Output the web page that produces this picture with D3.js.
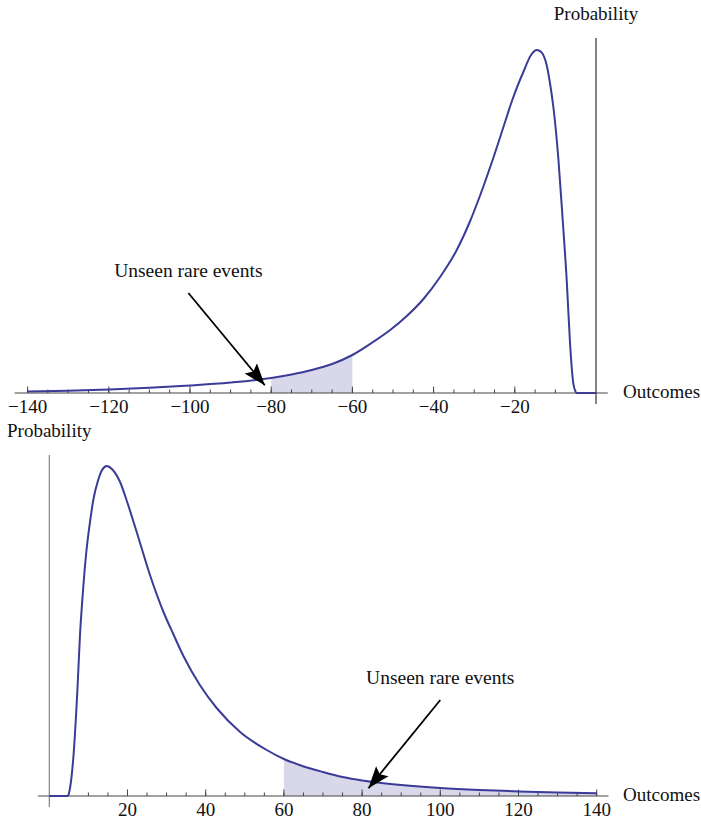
<!DOCTYPE html>
<html>
<head>
<meta charset="utf-8">
<script src="https://cdn.jsdelivr.net/npm/d3@7"></script>
<style>
  body { margin: 0; background: #fff; }
  svg text { font-family: "Liberation Serif", "Times New Roman", serif; font-size: 19px; fill: #111; }
</style>
</head>
<body>
<svg id="chart" width="701" height="822"></svg>
<script>
// top plot: losses, long tail to the left
const topOutcomes = [-140, -130, -120, -110, -100, -90, -80, -75, -70, -65, -60, -54.9, -50.7, -46.6, -42.5,
    -38.4, -34.3, -31, -28.6, -25.3, -22.8, -20.4, -17.9, -16, -14.6, -13.5, -12.1, -11.3, -10.5, -9.3, -8.2,
    -7.2, -6.4, -5.6, -4.75, -2, 0];
const topProbability = [0.00015, 0.00023, 0.00035, 0.00052, 0.00075, 0.00105, 0.0015, 0.00185, 0.0023, 0.0029,
    0.0038, 0.0051, 0.0063, 0.0077, 0.0094, 0.0116, 0.0143, 0.0172, 0.0197, 0.0235, 0.0266, 0.02955, 0.0321,
    0.0338, 0.0343, 0.0341, 0.0327, 0.0309, 0.0286, 0.0236, 0.0173, 0.0112, 0.0050, 0.0010, 0, 0, 0];

// bottom plot: gains, long tail to the right
const bottomOutcomes = [0, 2, 4.6, 5.3, 6.14, 7.16, 7.85, 8.54, 9.39, 10.41, 11.25, 12.5, 13.5, 14.7, 16, 18.1, 20,
    22.35, 25.75, 29.2, 31.7, 34.3, 38.5, 42.8, 48.8, 55.6, 60, 64, 70, 75, 80, 85, 90, 100, 110, 120, 130, 140];
const bottomProbability = [0, 0, 0, 0.0008, 0.0038, 0.0104, 0.0161, 0.0201, 0.0241, 0.0274, 0.0296, 0.0316, 0.0326,
    0.0330, 0.0327, 0.0314, 0.0293, 0.0264, 0.0221, 0.0184, 0.0162, 0.0140, 0.0111, 0.0088, 0.0064, 0.0046,
    0.0037, 0.0031, 0.0024, 0.0019, 0.00155, 0.0013, 0.0011, 0.0008, 0.0006, 0.00046, 0.00035, 0.00027];

const topTicks = [-140, -120, -100, -80, -60, -40, -20];
const bottomTicks = [20, 40, 60, 80, 100, 120, 140];
const topShade = [-80, -60];
const bottomShade = [60, 140];
const annotation = "Unseen rare events";
const topArrow = [[-100.4, 0.0100], [-80, 0]];
const bottomArrow = [[100, 0.0096], [80, 0]];

const curveColor = "#3b3b98";
const shadeColor = "#d8d8ea";

const svg = d3.select("#chart");

// arrow head used by both annotations
svg.append("defs").append("marker")
    .attr("id", "arrowhead")
    .attr("markerUnits", "userSpaceOnUse")
    .attr("markerWidth", 24).attr("markerHeight", 18)
    .attr("refX", 22).attr("refY", 9)
    .attr("orient", "auto")
  .append("path")
    .attr("d", "M0,1 L22,9 L0,17 L4,9 Z")
    .attr("fill", "#000");

/**
 * Draws one density plot with Mathematica-like axes crossing at the origin.
 */
function drawPanel(p) {
    let g = svg.append("g");
    let x = d3.scaleLinear().domain(p.xDomain).range(p.xRange);
    let y = d3.scaleLinear().domain([0, p.yMax]).range([p.baseline, p.peakPx]);
    let data = p.outcomes.map((d, i) => [d, p.probability[i]]);

    // shaded tail region, clipped from the full area so it follows the curve
    let clipId = "clip-" + p.name;
    g.append("clipPath").attr("id", clipId)
      .append("rect")
        .attr("x", x(p.shade[0])).attr("y", 0)
        .attr("width", x(p.shade[1]) - x(p.shade[0]))
        .attr("height", p.baseline);
    g.append("path")
        .datum(data)
        .attr("clip-path", "url(#" + clipId + ")")
        .attr("fill", shadeColor)
        .attr("d", d3.area().curve(d3.curveMonotoneX)
            .x(d => x(d[0])).y0(y(0)).y1(d => y(d[1])));

    // x axis
    g.append("line")
        .attr("x1", x(p.axisExtent[0])).attr("x2", x(p.axisExtent[1]))
        .attr("y1", p.baseline).attr("y2", p.baseline)
        .attr("stroke", "#444").attr("stroke-width", 1.1);

    g.selectAll(".minor").data(p.minorTicks).join("line")
        .attr("x1", d => x(d)).attr("x2", d => x(d))
        .attr("y1", p.baseline).attr("y2", p.baseline - 3.5)
        .attr("stroke", "#444");
    g.selectAll(".major").data(p.ticks).join("line")
        .attr("x1", d => x(d)).attr("x2", d => x(d))
        .attr("y1", p.baseline).attr("y2", p.baseline - 6.5)
        .attr("stroke", "#444");
    g.selectAll(".tick-label").data(p.ticks).join("text")
        .attr("x", d => x(d)).attr("y", p.baseline + 20)
        .attr("text-anchor", "middle")
        .text(d3.format("d"));

    // y axis
    g.append("line")
        .attr("x1", x(0)).attr("x2", x(0))
        .attr("y1", p.yAxisTop).attr("y2", p.baseline + 11)
        .attr("stroke", p.yAxisColor).attr("stroke-width", 1.1);

    // the density curve
    g.append("path")
        .datum(data)
        .attr("fill", "none")
        .attr("stroke", curveColor)
        .attr("stroke-width", 2)
        .attr("d", d3.line().curve(d3.curveMonotoneX).x(d => x(d[0])).y(d => y(d[1])));

    // annotation arrow: shorten the shaft so it ends inside the head
    let a = p.arrow.map(d => [x(d[0]), y(d[1])]);
    let dx = a[1][0] - a[0][0], dy = a[1][1] - a[0][1];
    let len = Math.hypot(dx, dy);
    g.append("line")
        .attr("x1", a[0][0]).attr("y1", a[0][1])
        .attr("x2", a[0][0] + dx * (len - 10) / len).attr("y2", a[0][1] + dy * (len - 10) / len)
        .attr("stroke", "#000").attr("stroke-width", 1.8)
        .attr("marker-end", "url(#arrowhead)");
    g.append("text")
        .attr("x", a[0][0]).attr("y", a[0][1] - 16)
        .attr("text-anchor", "middle")
        .style("font-size", "19.5px")
        .text(annotation);

    // axis labels
    g.append("text")
        .attr("x", 623).attr("y", p.baseline + 5)
        .text("Outcomes");
    g.append("text")
        .attr("x", p.probLabel[0]).attr("y", p.probLabel[1])
        .attr("text-anchor", p.probLabel[2])
        .text("Probability");
}

drawPanel({
    name: "top",
    outcomes: topOutcomes, probability: topProbability,
    xDomain: [-140, 0], xRange: [27.6, 596],
    yMax: 0.0343, baseline: 393, peakPx: 50,
    axisExtent: [-143.2, 2.9], yAxisTop: 38, yAxisColor: "#222",
    ticks: topTicks, minorTicks: d3.range(-140, 0, 5),
    shade: topShade, arrow: topArrow,
    probLabel: [596, 20, "middle"]
});

drawPanel({
    name: "bottom",
    outcomes: bottomOutcomes, probability: bottomProbability,
    xDomain: [0, 140], xRange: [49.3, 596.7],
    yMax: 0.0330, baseline: 796, peakPx: 466,
    axisExtent: [-2.9, 143], yAxisTop: 455, yAxisColor: "#777",
    ticks: bottomTicks, minorTicks: d3.range(5, 141, 5),
    shade: bottomShade, arrow: bottomArrow,
    probLabel: [7, 437, "start"]
});
</script>
</body>
</html>
